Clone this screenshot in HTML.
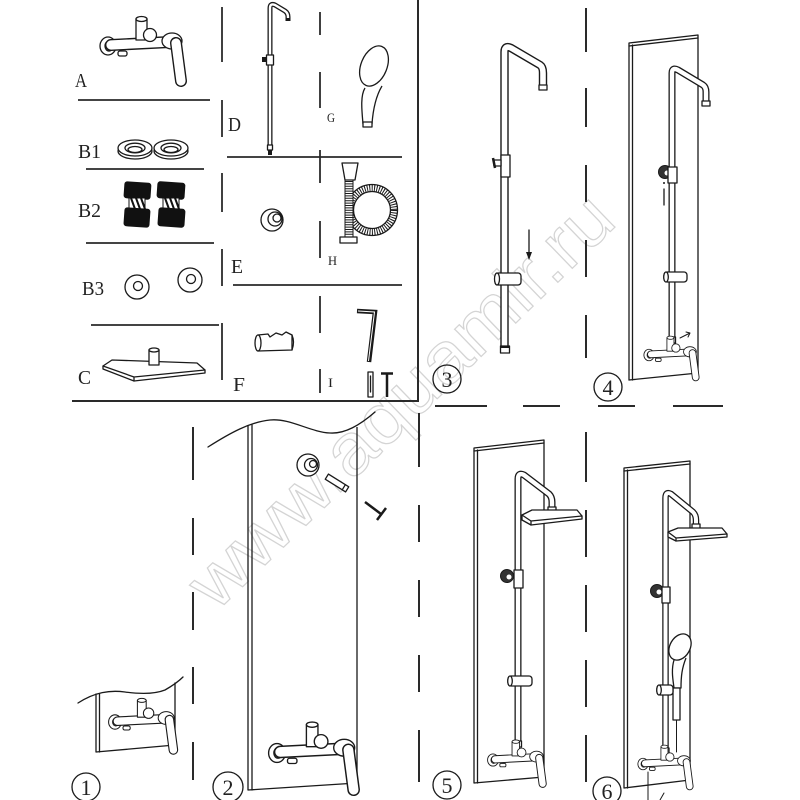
<!DOCTYPE html>
<html><head><meta charset="utf-8"><style>
html,body{margin:0;padding:0;background:#fff}
svg{display:block}
.s{fill:none;stroke:#1a1a1a;stroke-width:1.3;stroke-linejoin:round;stroke-linecap:round}
.w{fill:#fff;stroke:#1a1a1a;stroke-width:1.3;stroke-linejoin:round}
.sep{stroke:#2a2a2a;stroke-width:2;fill:none}
.lab{font-family:"Liberation Serif",serif;fill:#222}
.num{font-family:"Liberation Serif",serif;fill:#222;font-size:22px}
</style></head><body>
<svg width="800" height="800" viewBox="0 0 800 800" xmlns="http://www.w3.org/2000/svg">
<defs>
 <g id="mx">
  <ellipse cx="0" cy="0" rx="8" ry="9" class="w"/>
  <ellipse cx="1" cy="0" rx="4" ry="5" class="w"/>
  <path d="M3,-1 L62,-4" stroke="#1a1a1a" stroke-width="12" stroke-linecap="round" fill="none"/>
  <path d="M3,-1 L62,-4" stroke="#fff" stroke-width="9.2" stroke-linecap="round" fill="none"/>
  <rect x="10" y="5" width="9" height="5" rx="2" class="w"/>
  <rect x="28" y="-27" width="11" height="21" class="w"/>
  <ellipse cx="33.5" cy="-27" rx="5.5" ry="2.5" class="w"/>
  <circle cx="42" cy="-11" r="6.5" class="w"/>
  <ellipse cx="64" cy="-5" rx="10" ry="8" class="w"/>
  <path d="M68,-3 L73,35" stroke="#1a1a1a" stroke-width="12" stroke-linecap="round" fill="none"/>
  <path d="M68,-3 L73,35" stroke="#fff" stroke-width="9.2" stroke-linecap="round" fill="none"/>
 </g>
</defs>
<rect width="800" height="800" fill="#fff"/>

<!-- watermark -->
<text x="400" y="425" text-anchor="middle" transform="rotate(-44 400 400)" textLength="560" lengthAdjust="spacingAndGlyphs" style="font-family:'Liberation Sans',sans-serif;font-size:72px;fill:none;stroke:#d4d4d4;stroke-width:1.2">www.aquamir.ru</text>

<!-- top-left panel borders -->
<line class="sep" x1="418" y1="0" x2="418" y2="402"/>
<line class="sep" x1="72" y1="401" x2="418" y2="401"/>
<g class="sep" style="stroke-width:1.8">
 <line x1="78" y1="100" x2="210" y2="100"/>
 <line x1="86" y1="169" x2="204" y2="169"/>
 <line x1="86" y1="243" x2="214" y2="243"/>
 <line x1="91" y1="325" x2="219" y2="325"/>
 <line x1="227" y1="157" x2="402" y2="157"/>
 <line x1="233" y1="285" x2="402" y2="285"/>
 <line x1="222" y1="7" x2="222" y2="62"/>
 <line x1="222" y1="100" x2="222" y2="137"/>
 <line x1="222" y1="173" x2="222" y2="212"/>
 <line x1="222" y1="249" x2="222" y2="286"/>
 <line x1="222" y1="323" x2="222" y2="380"/>
 <line x1="320" y1="12" x2="320" y2="35"/>
 <line x1="320" y1="72" x2="320" y2="108"/>
 <line x1="320" y1="150" x2="320" y2="183"/>
 <line x1="320" y1="221" x2="320" y2="258"/>
 <line x1="320" y1="296" x2="320" y2="333"/>
 <line x1="320" y1="369" x2="320" y2="393"/>
</g>
<!-- dashed separators -->
<g class="sep">
 <line x1="193" y1="427" x2="193" y2="480"/><line x1="193" y1="518" x2="193" y2="555"/><line x1="193" y1="592" x2="193" y2="630"/><line x1="193" y1="667" x2="193" y2="704"/><line x1="193" y1="742" x2="193" y2="780"/>
 <line x1="419" y1="413" x2="419" y2="467"/><line x1="419" y1="505" x2="419" y2="542"/><line x1="419" y1="580" x2="419" y2="617"/><line x1="419" y1="655" x2="419" y2="692"/><line x1="419" y1="730" x2="419" y2="782"/>
 <line x1="586" y1="8" x2="586" y2="52"/><line x1="586" y1="88" x2="586" y2="127"/><line x1="586" y1="165" x2="586" y2="202"/><line x1="586" y1="240" x2="586" y2="277"/><line x1="586" y1="315" x2="586" y2="358"/>
 <line x1="586" y1="432" x2="586" y2="482"/><line x1="586" y1="510" x2="586" y2="557"/><line x1="586" y1="585" x2="586" y2="632"/><line x1="586" y1="660" x2="586" y2="707"/><line x1="586" y1="735" x2="586" y2="782"/>
 <line x1="435" y1="406" x2="487" y2="406"/><line x1="523" y1="406" x2="560" y2="406"/><line x1="598" y1="406" x2="635" y2="406"/><line x1="673" y1="406" x2="723" y2="406"/>
</g>

<!-- labels -->
<text class="lab" x="75" y="87" font-size="20" textLength="12" lengthAdjust="spacingAndGlyphs">A</text>
<text class="lab" x="78" y="158" font-size="20" textLength="23" lengthAdjust="spacingAndGlyphs">B1</text>
<text class="lab" x="78" y="217" font-size="20" textLength="23" lengthAdjust="spacingAndGlyphs">B2</text>
<text class="lab" x="82" y="295" font-size="20" textLength="22" lengthAdjust="spacingAndGlyphs">B3</text>
<text class="lab" x="78" y="384" font-size="20" textLength="13" lengthAdjust="spacingAndGlyphs">C</text>
<text class="lab" x="228" y="131" font-size="20" textLength="13" lengthAdjust="spacingAndGlyphs">D</text>
<text class="lab" x="231" y="273" font-size="20" textLength="12" lengthAdjust="spacingAndGlyphs">E</text>
<text class="lab" x="233" y="391" font-size="20" textLength="12" lengthAdjust="spacingAndGlyphs">F</text>
<text class="lab" x="327" y="122" font-size="13" textLength="8" lengthAdjust="spacingAndGlyphs">G</text>
<text class="lab" x="328" y="265" font-size="13" textLength="9" lengthAdjust="spacingAndGlyphs">H</text>
<text class="lab" x="328" y="387" font-size="13" textLength="5" lengthAdjust="spacingAndGlyphs">I</text>

<!-- A mixer -->
<use href="#mx" transform="translate(108,46)"/>

<!-- B1 washers -->
<g>
 <ellipse cx="135" cy="151" rx="17" ry="8" class="w"/>
 <ellipse cx="135" cy="148" rx="17" ry="8" class="w"/>
 <ellipse cx="135" cy="148" rx="10" ry="4.8" class="w"/>
 <ellipse cx="135" cy="149.5" rx="7" ry="3" class="s"/>
 <ellipse cx="171" cy="151" rx="17" ry="8" class="w"/>
 <ellipse cx="171" cy="148" rx="17" ry="8" class="w"/>
 <ellipse cx="171" cy="148" rx="10" ry="4.8" class="w"/>
 <ellipse cx="171" cy="149.5" rx="7" ry="3" class="s"/>
</g>
<!-- B2 -->
<g>
 <rect x="124" y="182" width="27" height="17" rx="3" fill="#111" transform="rotate(4 137 190)"/>
 <rect x="129" y="198" width="16" height="11" fill="#fff" stroke="#111"/>
 <path d="M131,198 L135,209 M136,198 L140,209 M141,198 L145,209" stroke="#111" stroke-width="2"/>
 <rect x="124" y="208" width="26" height="19" rx="3" fill="#111" transform="rotate(4 137 217)"/>
 <rect x="157" y="182" width="28" height="17" rx="3" fill="#111" transform="rotate(4 171 190)"/>
 <rect x="163" y="198" width="16" height="11" fill="#fff" stroke="#111"/>
 <path d="M165,198 L169,209 M170,198 L174,209 M175,198 L179,209" stroke="#111" stroke-width="2"/>
 <rect x="158" y="208" width="27" height="19" rx="3" fill="#111" transform="rotate(4 171 217)"/>
</g>
<!-- B3 -->
<circle cx="137" cy="287" r="12" class="w"/><circle cx="138" cy="286" r="4.5" class="s"/>
<circle cx="190" cy="280" r="12" class="w"/><circle cx="191" cy="279" r="4.5" class="s"/>
<!-- C rain head -->
<path d="M103,366 L112,360 L197,363 L205,370 L205,373 L134,381 L103,369 Z" class="w"/>
<path d="M103,366 L134,377 L205,370 M134,377 L134,381" class="s"/>
<rect x="149" y="350" width="10" height="15" class="w"/>
<ellipse cx="154" cy="350" rx="5" ry="2" class="w"/>

<!-- D rail -->
<path d="M270,150 L270,8 Q270,3 275,5 L285,11 Q288,13 288,17 L288,21" fill="none" stroke="#1a1a1a" stroke-width="5"/>
<path d="M270,150 L270,8 Q270,3 275,5 L285,11 Q288,13 288,17 L288,20" fill="none" stroke="#fff" stroke-width="2.4"/>
<rect x="286" y="18" width="4" height="3" fill="#1a1a1a"/>
<rect x="266.5" y="55" width="7" height="10" class="w"/>
<rect x="262" y="57" width="5" height="5" fill="#1a1a1a"/>
<rect x="267.5" y="145" width="5" height="5" class="w"/>
<rect x="268" y="150" width="4" height="5" fill="#1a1a1a"/>

<!-- G hand shower -->
<g>
 <path d="M365,88 C360,96 362,112 363,124 L372,124 C373,110 376,96 382,86" class="w"/>
 <ellipse cx="374" cy="66" rx="13" ry="21" transform="rotate(22 374 66)" class="w"/>
 <rect x="363" y="122" width="9" height="5" class="w"/>
</g>

<!-- E fitting -->
<circle cx="272" cy="220" r="11" class="w"/>
<circle cx="275" cy="219" r="7" class="w"/>
<circle cx="277" cy="218" r="4" class="w"/>

<!-- H hose -->
<g>
 <circle cx="372" cy="210" r="22" fill="none" stroke="#1a1a1a" stroke-width="7" stroke-dasharray="1 1.4"/>
 <circle cx="372" cy="210" r="25.5" class="s"/>
 <circle cx="372" cy="210" r="18.5" class="s"/>
 <rect x="345" y="180" width="8" height="57" fill="#fff" stroke="#1a1a1a" stroke-width="1"/>
 <line x1="349" y1="181" x2="349" y2="236" stroke="#1a1a1a" stroke-width="7" stroke-dasharray="1 1.4"/>
 <path d="M342,163 L358,163 L355,180 L345,180 Z" class="w"/>
 <rect x="340" y="237" width="17" height="6" class="w"/>
</g>

<!-- F clamp -->
<g>
 <path d="M258,335 L268,334 L270,337 L276,333 L282,335 L286,332 L292,335 L292,350 L258,351 Z" class="w"/>
 <ellipse cx="258" cy="343" rx="3" ry="8" class="w"/>
 <path d="M292,335 Q295,342 292,350" class="s"/>
</g>

<!-- I hex key, dowel, screw -->
<path d="M357,311 L375,312 L369,362" fill="none" stroke="#1a1a1a" stroke-width="4.5" stroke-linejoin="miter"/>
<path d="M358,311 L374.5,312 L368.5,361" fill="none" stroke="#fff" stroke-width="1"/>
<rect x="368" y="372" width="5" height="25" class="w"/>
<line x1="370.5" y1="376" x2="370.5" y2="392" class="s"/>
<line x1="381" y1="373.5" x2="393" y2="373.5" stroke="#1a1a1a" stroke-width="2.5"/>
<line x1="387" y1="374" x2="387" y2="397" stroke="#1a1a1a" stroke-width="2.5"/>

<!-- STEP 3 -->
<path d="M504.5,353 L504.5,52 Q504.5,45 511,48 L540,65 Q543,67 543,73 L543,89" fill="none" stroke="#1a1a1a" stroke-width="8.4"/>
<path d="M504.5,353 L504.5,52 Q504.5,45 511,48 L540,65 Q543,67 543,73 L543,88" fill="none" stroke="#fff" stroke-width="5.6"/>
<rect x="539" y="85" width="8" height="5" class="w"/>
<rect x="501" y="155" width="9" height="22" class="w"/>
<rect x="494" y="160" width="7" height="6" class="w"/>
<path d="M493,158 L495,168" stroke="#1a1a1a" stroke-width="2.5"/>
<rect x="495" y="273" width="26" height="12" rx="3" class="w"/>
<ellipse cx="497" cy="279" rx="2.5" ry="6" class="w"/>
<rect x="500.5" y="346" width="9" height="7" class="w"/>
<line x1="501" y1="347" x2="509" y2="347" stroke="#1a1a1a" stroke-width="2"/>
<line x1="529" y1="230" x2="529" y2="258" class="s"/>
<path d="M526,252 L529,260 L532,252 Z" fill="#1a1a1a"/>
<circle cx="447" cy="379" r="14" class="s"/>
<text class="num" x="447" y="387" text-anchor="middle">3</text>

<!-- STEP 4 -->
<path d="M629,43 L698,35 L698,373 L629,380 Z" class="w"/>
<line x1="632.5" y1="45" x2="632.5" y2="380" class="s"/>
<line x1="629" y1="46" x2="698" y2="38" class="s"/>
<path d="M672,340 L672,73 Q672,67 678,70 L703,85 Q706,87 706,92 L706,104" fill="none" stroke="#1a1a1a" stroke-width="7"/>
<path d="M672,340 L672,73 Q672,67 678,70 L703,85 Q706,87 706,92 L706,103" fill="none" stroke="#fff" stroke-width="4.4"/>
<rect x="702" y="101" width="8" height="5" class="w"/>
<circle cx="665" cy="172" r="6.5" fill="#333" stroke="#1a1a1a"/>
<circle cx="667" cy="173" r="2.5" fill="#fff"/>
<rect x="668" y="167" width="9" height="16" class="w"/>
<circle cx="664" cy="183" r="1" fill="#1a1a1a"/>
<line x1="664" y1="189" x2="664" y2="205" class="s"/>
<rect x="664" y="272" width="23" height="10" rx="3" class="w"/>
<ellipse cx="666" cy="277" rx="2.3" ry="5" class="w"/>
<rect x="668.5" y="337" width="7" height="6" class="w"/>
<use href="#mx" transform="translate(649,355) scale(0.64)"/>
<path d="M680,338 L690,333 M686,332 L690,333 L688,337" class="s" style="stroke-width:1"/>
<circle cx="608" cy="387" r="14" class="s"/>
<text class="num" x="608" y="395" text-anchor="middle">4</text>

<!-- STEP 1 -->
<path d="M78,703 C95,692 110,690 125,692 C140,694 155,694 165,690 C172,686 178,682 183,677" class="s"/>
<path d="M96,694 L96,752 L175,745 L175,683" class="s"/>
<line x1="99.5" y1="694" x2="99.5" y2="752" class="s"/>
<use href="#mx" transform="translate(115,722) scale(0.8)"/>
<circle cx="86" cy="787" r="14" class="s"/>
<text class="num" x="86" y="795" text-anchor="middle">1</text>

<!-- STEP 2 -->
<path d="M248,425 L248,790 L357,783 L357,427" class="w" style="fill:none"/>
<line x1="252" y1="425" x2="252" y2="790" class="s"/>
<path d="M208,447 C230,433 250,422 270,420 C290,418 310,432 330,433 C345,434 360,425 375,412" class="s"/>
<circle cx="308" cy="465" r="11" class="w"/>
<circle cx="311" cy="465" r="6.5" class="w"/>
<circle cx="313" cy="464" r="3.5" class="w"/>
<g transform="rotate(32 337 483)">
 <rect x="325" y="480" width="24" height="6" class="w"/>
 <line x1="345" y1="480" x2="345" y2="486" class="s"/>
</g>
<line x1="365" y1="502" x2="381" y2="514" stroke="#1a1a1a" stroke-width="2.5"/>
<line x1="377" y1="520" x2="386" y2="508" stroke="#1a1a1a" stroke-width="2.5"/>
<use href="#mx" transform="translate(277,753) scale(1.05)"/>
<circle cx="228" cy="787" r="15" class="s"/>
<text class="num" x="228" y="795" text-anchor="middle">2</text>

<!-- STEP 5 -->
<path d="M474,448 L544,440 L544,777 L474,783 Z" class="w"/>
<line x1="477.5" y1="450" x2="477.5" y2="783" class="s"/>
<line x1="474" y1="451" x2="544" y2="443" class="s"/>
<path d="M518,745 L518,479 Q518,472 524,475 L549,494 Q552,497 552,502 L552,511" fill="none" stroke="#1a1a1a" stroke-width="7"/>
<path d="M518,745 L518,479 Q518,472 524,475 L549,494 Q552,497 552,502 L552,510" fill="none" stroke="#fff" stroke-width="4.4"/>
<rect x="548" y="507" width="8" height="5" class="w"/>
<path d="M522,515 L532,510 L577,510 L582,516 L582,519 L531,525 L522,520 Z" class="w"/>
<path d="M522,515 L531,521 L582,516 M531,521 L531,525" class="s"/>
<circle cx="507" cy="576" r="6.5" fill="#333" stroke="#1a1a1a"/>
<circle cx="509" cy="577" r="2.5" fill="#fff"/>
<rect x="514" y="570" width="9" height="18" class="w"/>
<rect x="508" y="676" width="24" height="10" rx="3" class="w"/>
<ellipse cx="510" cy="681" rx="2.3" ry="5" class="w"/>
<rect x="514.5" y="741" width="7" height="6" class="w"/>
<use href="#mx" transform="translate(493,760) scale(0.68)"/>
<circle cx="447" cy="785" r="14" class="s"/>
<text class="num" x="447" y="793" text-anchor="middle">5</text>

<!-- STEP 6 -->
<path d="M624,468 L690,461 L690,780 L624,788 Z" class="w"/>
<line x1="627.5" y1="470" x2="627.5" y2="788" class="s"/>
<line x1="624" y1="471" x2="690" y2="464" class="s"/>
<path d="M665.5,752 L665.5,498 Q665.5,491 671,494 L693,512 Q696,515 696,520 L696,529" fill="none" stroke="#1a1a1a" stroke-width="6.5"/>
<path d="M665.5,752 L665.5,498 Q665.5,491 671,494 L693,512 Q696,515 696,520 L696,528" fill="none" stroke="#fff" stroke-width="4"/>
<rect x="692" y="524" width="8" height="5" class="w"/>
<path d="M668,532 L678,528 L722,528 L727,534 L727,537 L676,541 L668,537 Z" class="w"/>
<path d="M668,532 L676,538 L727,534 M676,538 L676,541" class="s"/>
<circle cx="657" cy="591" r="6.5" fill="#333" stroke="#1a1a1a"/>
<circle cx="659" cy="592" r="2.5" fill="#fff"/>
<rect x="662" y="587" width="8" height="16" class="w"/>
<!-- hand shower -->
<path d="M674,660 C671,670 673,680 674,688 L681,688 C681,676 682,668 686,658" class="w"/>
<ellipse cx="680" cy="647" rx="10" ry="14" transform="rotate(30 680 647)" class="w"/>
<rect x="673" y="688" width="7" height="32" class="w"/>
<line x1="676.5" y1="720" x2="676.5" y2="752" class="s" style="stroke-width:1"/>
<rect x="657" y="685" width="16" height="10" rx="3" class="w"/>
<ellipse cx="659" cy="690" rx="2.3" ry="5" class="w"/>
<rect x="662" y="748" width="7" height="6" class="w"/>
<use href="#mx" transform="translate(643,764) scale(0.64)"/>
<line x1="648" y1="772" x2="648" y2="800" class="s" style="stroke-width:1"/>
<path d="M660,800 L664,793" class="s" style="stroke-width:1"/>
<circle cx="607" cy="791" r="14" class="s"/>
<text class="num" x="607" y="799" text-anchor="middle">6</text>
</svg>
</body></html>
